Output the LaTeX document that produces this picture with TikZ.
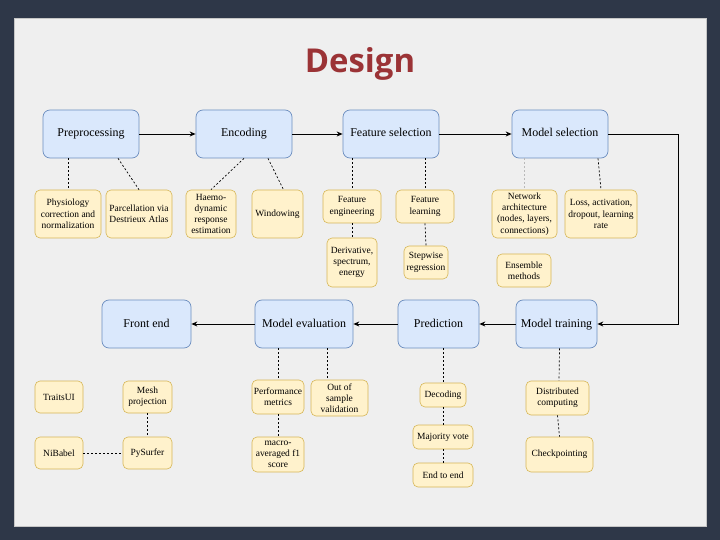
\documentclass[tikz,border=0pt]{standalone}
\usepackage{fontspec}
\newfontfamily\bodyfont{Liberation Serif}
\newfontfamily\titlefont{Open Sans}
\setmainfont{Liberation Serif}
\usepackage{xcolor}
\usetikzlibrary{arrows.meta}

\definecolor{frame}{HTML}{2E3748}
\definecolor{panel}{HTML}{EFEFEF}
\definecolor{titlered}{HTML}{9B3336}
\definecolor{stepfill}{HTML}{DAE8FC}
\definecolor{stepline}{HTML}{6C8EBF}
\definecolor{subfill}{HTML}{FFF2CC}
\definecolor{subline}{HTML}{D6B656}

\begin{document}
\begin{tikzpicture}[x=1bp,y=-1bp,
 stage/.style={draw=stepline,fill=stepfill,rounded corners=7bp,line width=0.7bp,
   minimum height=48bp,align=center,inner sep=1bp,text height=8.5bp,text depth=2.5bp,
   font=\bodyfont\fontsize{12}{14}\selectfont},
 sub/.style={draw=subline,fill=subfill,rounded corners=5bp,line width=0.6bp,
   align=center,inner sep=1bp,font=\bodyfont\fontsize{9.5}{11.3}\selectfont},
 flow/.style={-{Stealth[length=6bp,width=5bp,inset=2bp]},line width=0.9bp},
 link/.style={dash pattern=on 2bp off 2bp,line width=0.7bp}]
\fill[frame] (0,0) rectangle (720,540);
\filldraw[fill=panel,draw=gray!45] (14,18) rectangle (706,526);
\node[font=\titlefont\bfseries\fontsize{33}{36}\selectfont,text=titlered] (title) at (360,64) {Design};
% main stages
\node[stage,minimum width=96bp] (prep) at (91,134) {Preprocessing};
\node[stage,minimum width=96bp] (enc) at (244,134) {Encoding};
\node[stage,minimum width=96bp] (fsel) at (391,134) {Feature selection};
\node[stage,minimum width=96bp] (msel) at (560,134) {Model selection};
\node[stage,minimum width=81bp] (train) at (556.5,324) {Model training};
\node[stage,minimum width=81bp] (pred) at (438.5,324) {Prediction};
\node[stage,minimum width=98bp] (meval) at (304,324) {Model evaluation};
\node[stage,minimum width=89bp] (front) at (146.5,324) {Front end};
% details
\node[sub,minimum width=66bp,minimum height=48bp] (phys) at (68,214) {Physiology\\correction and\\normalization};
\node[sub,minimum width=66bp,minimum height=48bp] (parc) at (139,214) {Parcellation via\\Destrieux Atlas};
\node[sub,minimum width=50bp,minimum height=48bp] (haemo) at (211,214) {Haemo-\\dynamic\\response\\estimation};
\node[sub,minimum width=51bp,minimum height=48bp] (wind) at (277.5,214) {Windowing};
\node[sub,minimum width=58bp,minimum height=33bp] (feng) at (352,206.5) {Feature\\engineering};
\node[sub,minimum width=58bp,minimum height=33bp] (flearn) at (425,206.5) {Feature\\learning};
\node[sub,minimum width=50bp,minimum height=49bp] (deriv) at (352,262.5) {Derivative,\\spectrum,\\energy};
\node[sub,minimum width=44bp,minimum height=33bp] (stepw) at (426,262.5) {Stepwise\\regression};
\node[sub,minimum width=65bp,minimum height=48bp] (netw) at (524.5,214) {Network\\architecture\\(nodes, layers,\\connections)};
\node[sub,minimum width=72bp,minimum height=48bp] (loss) at (601,214) {Loss, activation,\\dropout, learning\\rate};
\node[sub,minimum width=54bp,minimum height=33bp] (ens) at (524,270.5) {Ensemble\\methods};
\node[sub,minimum width=48bp,minimum height=32bp] (traits) at (59,397) {TraitsUI};
\node[sub,minimum width=49bp,minimum height=32bp] (mesh) at (147.5,397) {Mesh\\projection};
\node[sub,minimum width=48bp,minimum height=32bp] (nib) at (59,453) {NiBabel};
\node[sub,minimum width=49bp,minimum height=32bp] (pysurf) at (147.5,453) {PySurfer};
\node[sub,minimum width=52bp,minimum height=34bp] (perf) at (278,397) {Performance\\metrics};
\node[sub,minimum width=57bp,minimum height=36bp] (oos) at (339.5,398) {Out of\\sample\\validation};
\node[sub,minimum width=52bp,minimum height=35bp] (macro) at (278,454.5) {macro-\\averaged f1\\score};
\node[sub,minimum width=46bp,minimum height=24bp] (dec) at (443,395) {Decoding};
\node[sub,minimum width=60bp,minimum height=24bp] (major) at (443,437) {Majority vote};
\node[sub,minimum width=60bp,minimum height=24bp] (e2e) at (443,475) {End to end};
\node[sub,minimum width=63bp,minimum height=34bp] (dist) at (557.5,398) {Distributed\\computing};
\node[sub,minimum width=67bp,minimum height=35bp] (ckpt) at (559.5,454.5) {Checkpointing};
% pipeline
\coordinate (turn) at (678,134);
\draw[flow] (prep) -- (enc);
\draw[flow] (enc) -- (fsel);
\draw[flow] (fsel) -- (msel);
\draw[flow] (msel.east) -- (turn) |- (train.east);
\draw[flow] (train) -- (pred);
\draw[flow] (pred) -- (meval);
\draw[flow] (meval) -- (front);
% dashed links
\draw[link] (prep.south -| phys.north) -- (phys.north);
\draw[link] ([xshift=27bp]prep.south) -- (parc.north);
\draw[link] (enc.south) -- (haemo.north);
\draw[link] ([xshift=24bp]enc.south) -- ([xshift=6bp]wind.north);
\draw[link] (fsel.south -| feng.north) -- (feng.north);
\draw[link] (feng.south) -- (deriv.north);
\draw[link] (fsel.south -| flearn.north) -- (flearn.north);
\draw[link] (flearn.south) -- (stepw.north);
\draw[link,draw=gray!55] (msel.south -| netw.north) -- (netw.north);
\draw[link] ([xshift=38bp]msel.south) -- (loss.north);
\draw[link] (meval.south -| perf.north) -- (perf.north);
\draw[link] (perf.south) -- (macro.north);
\draw[link] ([xshift=23bp]meval.south) -- ([xshift=23bp]meval.south |- oos.north);
\draw[link] (pred.south -| dec.north) -- (dec.north);
\draw[link] (dec) -- (major);
\draw[link] (major) -- (e2e);
\draw[link] ([xshift=3bp]train.south) -- ([xshift=1.5bp]dist.north);
\draw[link] (dist.south) -- (ckpt.north);
\draw[link] (mesh) -- (pysurf);
\draw[link] (nib) -- (pysurf);
\end{tikzpicture}
\end{document}
